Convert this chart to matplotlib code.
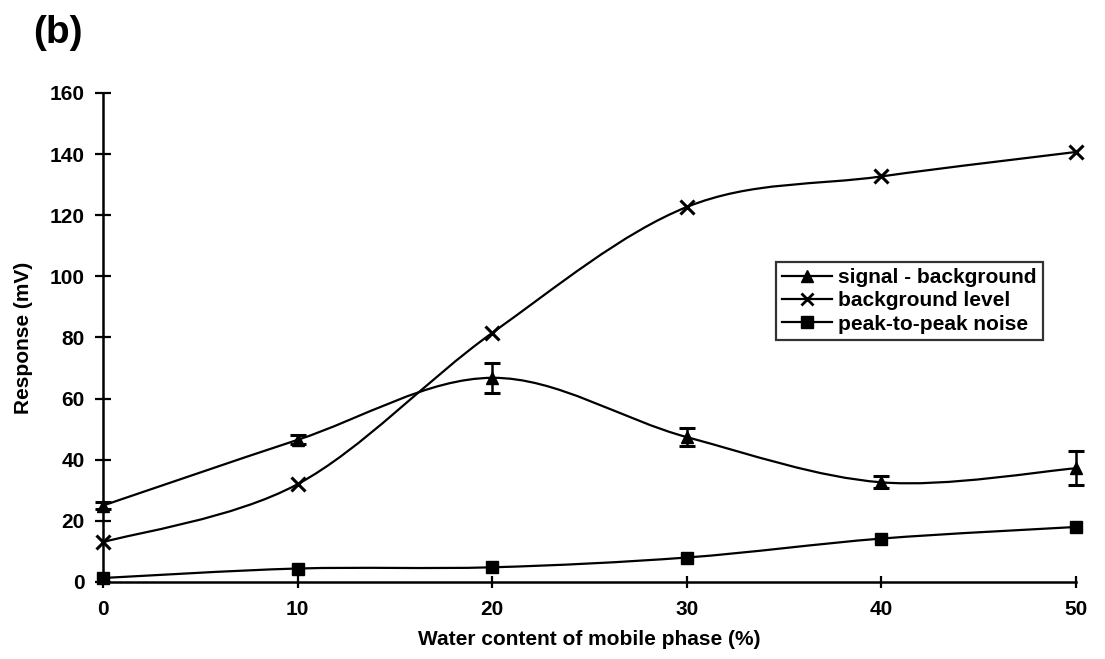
import numpy as np
import matplotlib
matplotlib.use("Agg")
import matplotlib.pyplot as plt
from matplotlib.path import Path
from matplotlib.patches import PathPatch
from matplotlib.lines import Line2D

plt.rcParams['font.family'] = ['Liberation Sans', 'DejaVu Sans']

water = [0, 10, 20, 30, 40, 50]
signal = [25, 46.5, 66.8, 47.4, 32.6, 37.2]
signal_err = [1.2, 1.5, 5.0, 3.0, 2.0, 5.5]
background = [13, 32, 81.5, 122.7, 132.7, 140.7]
noise = [1.3, 4.4, 4.8, 8.0, 14.2, 18.0]


def smooth_path(x, y):
    # Excel-like smoothed line: cubic Bezier through the points
    pts = np.column_stack([x, y]).astype(float)
    n = len(pts)
    verts = [pts[0]]
    codes = [Path.MOVETO]
    for i in range(n - 1):
        p0 = pts[i - 1] if i > 0 else pts[i]
        p1 = pts[i]
        p2 = pts[i + 1]
        p3 = pts[i + 2] if i + 2 < n else pts[i + 1]
        c1 = p1 + (p2 - p0) / 6.0
        c2 = p2 - (p3 - p1) / 6.0
        verts += [c1, c2, p2]
        codes += [Path.CURVE4] * 3
    return Path(verts, codes)


fig = plt.figure(figsize=(11.05, 6.59), dpi=100)
ax = fig.add_axes([0.0932, 0.1169, 0.8806, 0.742])

lw = 1.6
for ys in (signal, background, noise):
    ax.add_patch(PathPatch(smooth_path(water, ys), facecolor='none',
                           edgecolor='black', lw=lw, zorder=2, clip_on=False))

eb = ax.errorbar(water, signal, yerr=signal_err, fmt='none', ecolor='black',
                 elinewidth=1.8, capsize=5.5, capthick=2.2, zorder=3)
for art in eb.lines[1] + eb.lines[2]:
    art.set_clip_on(False)
ax.plot(water, signal, ls='none', marker='^', ms=8, color='black',
        zorder=4, clip_on=False)
ax.plot(water, background, ls='none', marker='x', ms=10, mew=2.2,
        color='black', zorder=4, clip_on=False)
ax.plot(water, noise, ls='none', marker='s', ms=9, color='black',
        zorder=4, clip_on=False)

ax.set_xlim(0, 50)
ax.set_ylim(0, 160)
ax.set_xticks(np.arange(0, 51, 10))
ax.set_yticks(np.arange(0, 161, 20))
for s in ('top', 'right'):
    ax.spines[s].set_visible(False)
for s in ('left', 'bottom'):
    ax.spines[s].set_linewidth(1.8)
ax.tick_params(direction='inout', width=1.6, labelsize=15)
ax.tick_params(axis='y', length=12, pad=7)
ax.tick_params(axis='x', length=8, pad=9)
for lab in ax.get_xticklabels() + ax.get_yticklabels():
    lab.set_fontweight('bold')

ax.set_xlabel('Water content of mobile phase (%)', fontsize=15,
              fontweight='bold', labelpad=8)
ax.set_ylabel('Response (mV)', fontsize=15, fontweight='bold', labelpad=12)

fig.text(0.03, 0.935, '(b)', fontsize=28, fontweight='bold')

handles = [
    Line2D([], [], color='black', lw=lw, marker='^', ms=8),
    Line2D([], [], color='black', lw=lw, marker='x', ms=9, mew=2),
    Line2D([], [], color='black', lw=lw, marker='s', ms=9),
]
labels = ['signal - background', 'background level', 'peak-to-peak noise']
leg = ax.legend(handles, labels, loc='upper left',
                bbox_to_anchor=(776 / 1105, 1 - 262 / 659),
                bbox_transform=fig.transFigure, frameon=True, fancybox=False,
                edgecolor='black', handlelength=2.4,
                prop={'size': 15, 'weight': 'bold'},
                handletextpad=0.3, borderpad=0.3, borderaxespad=0,
                labelspacing=0.2)
leg.get_frame().set_linewidth(1.6)

fig.savefig('out.png', dpi=100)
